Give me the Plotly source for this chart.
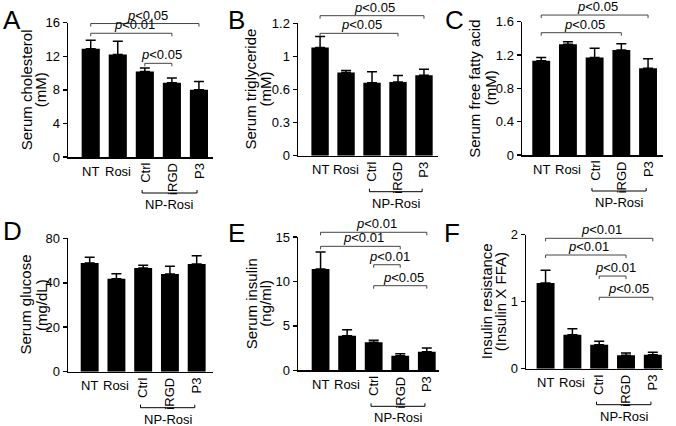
import plotly.graph_objects as go

# ---------------- data ----------------
groups = ["NT", "Rosi", "Ctrl", "iRGD", "P3"]
rotated_groups = ["Ctrl", "iRGD", "P3"]
np_label = "NP-Rosi"

chol_mean = [12.9, 12.2, 10.2, 8.85, 8.0]
chol_err = [1.0, 1.6, 0.4, 0.55, 1.0]
tg_mean = [0.98, 0.753, 0.662, 0.668, 0.729]
tg_err = [0.10, 0.02, 0.10, 0.06, 0.055]
ffa_mean = [1.13, 1.33, 1.17, 1.26, 1.04]
ffa_err = [0.04, 0.03, 0.11, 0.075, 0.115]
glu_mean = [48.9, 41.8, 46.6, 43.9, 48.4]
glu_err = [2.6, 2.3, 1.3, 3.5, 3.8]
ins_mean = [11.4, 3.9, 3.15, 1.65, 2.1]
ins_err = [1.9, 0.67, 0.22, 0.22, 0.4]
ir_mean = [1.28, 0.507, 0.358, 0.2, 0.209]
ir_err = [0.19, 0.09, 0.05, 0.034, 0.035]

chol_ticks = [0, 4, 8, 12, 16]
chol_ticktext = ["0", "4", "8", "12", "16"]
tg_ticks = [0, 0.3, 0.6, 0.9, 1.2]
tg_ticktext = ["0", "0.3", "0.6", "1", "1.2"]
ffa_ticks = [0, 0.4, 0.8, 1.2, 1.6]
ffa_ticktext = ["0", "0.4", "0.8", "1.2", "1.6"]
glu_ticks = [0, 20, 40, 60]
glu_ticktext = ["0", "20", "40", "80"]
ins_ticks = [0, 5, 10, 15]
ins_ticktext = ["0", "5", "10", "15"]
ir_ticks = [0, 1, 2]
ir_ticktext = ["0", "1", "2"]

# significance comparisons (group index pairs, label)
chol_pairs = [(0, 4), (0, 3), (2, 3)]
chol_p = ["0.05", "0.01", "0.05"]
tg_pairs = [(0, 4), (0, 3)]
tg_p = ["0.05", "0.05"]
ffa_pairs = [(0, 4), (0, 3)]
ffa_p = ["0.05", "0.05"]
glu_pairs = []
glu_p = []
ins_pairs = [(0, 4), (0, 3), (2, 3), (2, 4)]
ins_p = ["0.01", "0.01", "0.01", "0.05"]
ir_pairs = [(0, 4), (0, 3), (2, 3), (2, 4)]
ir_p = ["0.01", "0.01", "0.01", "0.05"]

# ---------------- layout config ----------------
W, H = 676, 426
FONT = "Liberation Sans, Arial, sans-serif"

panels = [
    dict(mean=chol_mean, err=chol_err, tv=chol_ticks, tt=chol_ticktext, ymax=16,
         pairs=chol_pairs, p=chol_p, bry=[15.9, 14.74, 11.16],
         title=("Serum cholesterol", "(mM)"), tx=(26.5, 40.5),
         letter="A", lx=1, ly=3, box=(68, 213, 22.7, 157), xr=(-0.84, 4.52)),
    dict(mean=tg_mean, err=tg_err, tv=tg_ticks, tt=tg_ticktext, ymax=1.2,
         pairs=tg_pairs, p=tg_p, bry=[1.269, 1.109],
         title=("Serum triglyceride", "(mM)"), tx=(250, 265),
         letter="B", lx=226, ly=3, box=(298, 438, 23.3, 155.7), xr=(-0.85, 4.54)),
    dict(mean=ffa_mean, err=ffa_err, tv=ffa_ticks, tt=ffa_ticktext, ymax=1.6,
         pairs=ffa_pairs, p=ffa_p, bry=[1.68, 1.468],
         title=("Serum free fatty acid", "(mM)"), tx=(474.5, 490),
         letter="C", lx=443, ly=3, box=(522, 663, 21.7, 155), xr=(-0.72, 4.56)),
    dict(mean=glu_mean, err=glu_err, tv=glu_ticks, tt=glu_ticktext, ymax=60,
         pairs=glu_pairs, p=glu_p, bry=[],
         title=("Serum glucose", "(mg/dL)"), tx=(24.5, 41),
         letter="D", lx=1, ly=214, box=(68, 213, 238.3, 371.7), xr=(-0.81, 4.61)),
    dict(mean=ins_mean, err=ins_err, tv=ins_ticks, tt=ins_ticktext, ymax=15,
         pairs=ins_pairs, p=ins_p, bry=[15.53, 13.95, 11.88, 9.52],
         title=("Serum insulin", "(ng/ml)"), tx=(251.5, 266),
         letter="E", lx=226, ly=216, box=(298, 439, 237, 370.3), xr=(-0.85, 4.46)),
    dict(mean=ir_mean, err=ir_err, tv=ir_ticks, tt=ir_ticktext, ymax=2,
         pairs=ir_pairs, p=ir_p, bry=[1.946, 1.697, 1.383, 1.066],
         title=("Insulin resistance", "(Insulin X FFA)"), tx=(486.5, 500.5),
         letter="F", lx=442, ly=216, box=(526, 663, 234.7, 368.7), xr=(-0.73, 4.38)),
]

fig = go.Figure()
shapes = []
annotations = []
layout_axes = {}

for k, pn in enumerate(panels, start=1):
    xs = "" if k == 1 else str(k)
    xname, yname = "x" + xs, "y" + xs
    x0, x1, ytop, ybot = pn["box"]
    fig.add_trace(go.Bar(
        x=groups, y=pn["mean"], xaxis=xname, yaxis=yname,
        marker=dict(color="black", line=dict(width=0)), width=0.67,
        error_y=dict(type="data", symmetric=False, array=pn["err"],
                     arrayminus=[0] * len(groups), color="black",
                     thickness=1.5, width=5),
        showlegend=False, hoverinfo="skip"))
    layout_axes["xaxis" + xs] = dict(
        domain=[x0 / W, x1 / W], anchor=yname, type="category",
        range=list(pn["xr"]), showline=True, linecolor="black", linewidth=1.5,
        ticks="", showticklabels=False, showgrid=False, zeroline=False,
        automargin=False, fixedrange=True)
    layout_axes["yaxis" + xs] = dict(
        domain=[1 - ybot / H, 1 - ytop / H], anchor=xname,
        range=[0, pn["ymax"]], tickvals=pn["tv"], ticktext=pn["tt"],
        ticks="outside", ticklen=4, tickwidth=1.5, tickcolor="black",
        showline=True, linecolor="black", linewidth=1.5,
        tickfont=dict(size=13, color="black", family=FONT),
        showgrid=False, zeroline=False, automargin=False, fixedrange=True)

    xr0, xr1 = pn["xr"]
    dx = lambda i: (i - xr0) / (xr1 - xr0)
    xd, yd = xname + " domain", yname + " domain"

    # category labels
    for i, g in enumerate(groups):
        if g in rotated_groups:
            annotations.append(dict(text=g, xref=xname, yref=yd, x=g, y=0,
                                    yshift=-4, textangle=-90, xanchor="center",
                                    yanchor="top", showarrow=False,
                                    font=dict(size=13)))
        else:
            annotations.append(dict(text=g, xref=xname, yref=yd, x=g, y=0,
                                    yshift=-14, xanchor="center",
                                    yanchor="middle", showarrow=False,
                                    font=dict(size=13)))
    # NP-Rosi bracket
    bl, br = dx(1.9), dx(3.93)
    line = dict(color="black", width=1)
    shapes.append(dict(type="line", xref=xd, yref=yd, ysizemode="pixel",
                       yanchor=0, x0=bl, x1=br, y0=-36, y1=-36, line=line))
    for xe in (bl, br):
        shapes.append(dict(type="line", xref=xd, yref=yd, ysizemode="pixel",
                           yanchor=0, x0=xe, x1=xe, y0=-36, y1=-33, line=line))
    annotations.append(dict(text=np_label, xref=xd, yref=yd, x=dx(2.93), y=0,
                            yshift=-47.5, xanchor="center", yanchor="middle",
                            showarrow=False, font=dict(size=13)))

    # significance brackets
    for (a, b), pv, yv in zip(pn["pairs"], pn["p"], pn["bry"]):
        yf = yv / pn["ymax"]
        gl = dict(color="#444", width=1)
        shapes.append(dict(type="line", xref=xd, yref=yd, x0=dx(a), x1=dx(b),
                           y0=yf, y1=yf, line=gl))
        for xe in (dx(a), dx(b)):
            shapes.append(dict(type="line", xref=xd, yref=yd, ysizemode="pixel",
                               yanchor=yf, x0=xe, x1=xe, y0=0, y1=-3, line=gl))
        annotations.append(dict(text="<i>p</i>&lt;" + pv, xref=xd, yref=yd,
                                x=(dx(a) + dx(b)) / 2 + 0.02, y=yf, yshift=-1,
                                xanchor="center", yanchor="bottom",
                                showarrow=False, font=dict(size=13)))

    # y-axis title (two lines)
    for txt, tx in zip(pn["title"], pn["tx"]):
        annotations.append(dict(text=txt, xref="paper", yref=yd, x=tx / W,
                                y=0.5, textangle=-90, xanchor="center",
                                yanchor="middle", showarrow=False,
                                font=dict(size=15)))
    # panel letter
    annotations.append(dict(text=pn["letter"], xref="paper", yref="paper",
                            x=pn["lx"] / W, y=1 - pn["ly"] / H,
                            xanchor="left", yanchor="top", showarrow=False,
                            font=dict(size=26)))

fig.update_layout(
    width=W, height=H,
    margin=dict(l=0, r=0, t=0, b=0, pad=0, autoexpand=False),
    paper_bgcolor="white", plot_bgcolor="white",
    font=dict(family=FONT, color="black", size=13),
    bargap=0.33, shapes=shapes, annotations=annotations, **layout_axes)

fig.write_html("out.html",
               config={"displayModeBar": False, "staticPlot": True},
               post_script="document.body.style.margin='0';"
                           "document.body.style.overflow='hidden';")
